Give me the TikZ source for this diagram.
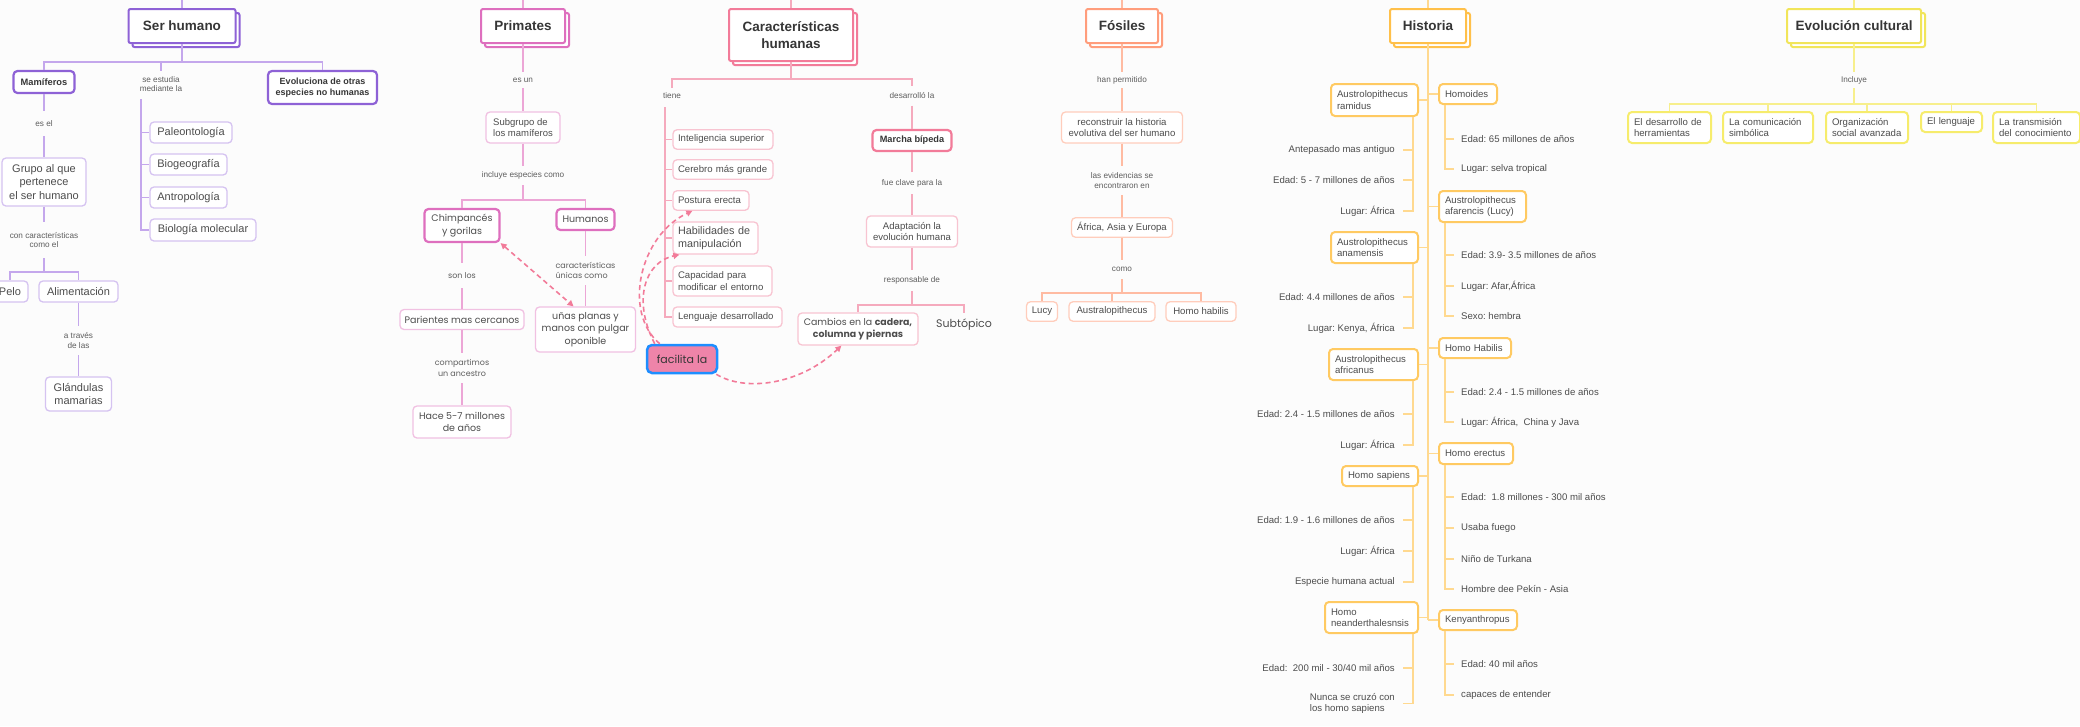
\documentclass[tikz,border=0pt]{standalone}
\usepackage{fontspec}
\setmainfont{Liberation Sans}
\newfontfamily\geo{Poppins}
\usetikzlibrary{arrows.meta}
\newcommand\myfs[2]{\fontsize{#1}{#2}\selectfont}
\definecolor{bg}{HTML}{FCFCFC}
\definecolor{txtD}{HTML}{363636}
\definecolor{txtM}{HTML}{4D4D4D}
\definecolor{txtL}{HTML}{5E5E5E}
\definecolor{puD}{HTML}{8E62D6}
\definecolor{puL}{HTML}{D5C3F1}
\definecolor{puC}{HTML}{C4A7EC}
\definecolor{maD}{HTML}{DE6FBE}
\definecolor{maL}{HTML}{F1C1E2}
\definecolor{maC}{HTML}{ECA6D6}
\definecolor{piD}{HTML}{F27B99}
\definecolor{piL}{HTML}{F8C4D1}
\definecolor{piC}{HTML}{F5AABD}
\definecolor{piF}{HTML}{EE84A9}
\definecolor{blu}{HTML}{1E8EFF}
\definecolor{coD}{HTML}{FF9D7C}
\definecolor{coL}{HTML}{FFCDBC}
\definecolor{coC}{HTML}{FFBBA2}
\definecolor{orD}{HTML}{FFC04A}
\definecolor{orB}{HTML}{FFCA62}
\definecolor{orC}{HTML}{FFD990}
\definecolor{yeD}{HTML}{F1E55A}
\definecolor{yeB}{HTML}{F6EC6C}
\definecolor{yeC}{HTML}{F7EF8C}
\tikzset{
  rootsh/.style={draw=#1, line width=2pt, fill=white, rounded corners=2pt, inner sep=0pt},
  rootbox/.style={draw=#1, line width=2pt, fill=white, rounded corners=2pt, inner sep=0pt, align=center, text=txtD, font=\bfseries\myfs{13.5}{16.7}},
  tbox/.style={draw=#1, line width=1.3pt, fill=white, rounded corners=4pt, inner sep=0pt, align=center, text=txtM, font=\myfs{9.6}{11.4}},
  tboxl/.style={tbox=#1, align=left, inner xsep=5pt},
  kbox/.style={draw=#1, line width=2.2pt, fill=white, rounded corners=4pt, inner sep=0pt, align=center, text=txtD, font=\bfseries\myfs{9.2}{11}},
  obox/.style={draw=#1, line width=2pt, fill=white, rounded corners=4pt, inner sep=0pt, inner xsep=6pt, align=left, text=txtM, font=\myfs{9.6}{11.4}},
  lbl/.style={inner sep=0pt, align=center, text=txtL, font=\myfs{8.2}{9.5}},
  itm/.style={inner sep=0pt, text=txtM, font=\myfs{9.6}{11.2}, align=left},
  cn/.style={draw=#1, line width=1.3pt},
  dlink/.style={draw=piD, line width=1.6pt, dash pattern=on 5pt off 3.5pt, -{Triangle[length=6pt,width=6pt]}},
}
\begin{document}
\frenchspacing
\begin{tikzpicture}[x=1pt,y=-1pt]
\clip (0,0) rectangle (2080,726);
\fill[bg] (0,0) rectangle (2080,726);

% ===== Ser humano =====
\coordinate (serT) at (182,0);
\coordinate (sj) at (182,62);
\coordinate (barS) at (141,99);
\coordinate (pj) at (44,272);
\node[rootsh=puD, minimum width=107pt, minimum height=34pt] (serS) at (186,30) {};
\node[rootbox=puD, minimum width=107pt, minimum height=34pt] (ser) at (182,26) {Ser humano};
\node[kbox=puD, font=\bfseries\myfs{9.3}{11}, minimum width=61pt, minimum height=22pt] (mam) at (44,82) {Mamíferos};
\node[kbox=puD, font=\bfseries\myfs{9}{11.2}, minimum width=109pt, minimum height=33pt] (evo) at (322.5,87.5) {Evoluciona de otras\\especies no humanas};
\node[lbl, minimum height=26pt] (estud) at (161,84) {se estudia\\mediante la};
\node[tbox=puL, font=\myfs{11}{13}, minimum width=82pt, minimum height=21pt] (paleo) at (191,132.5) {Paleontología};
\node[tbox=puL, font=\myfs{11}{13}, minimum width=77pt, minimum height=21pt] (biog) at (188.5,164.5) {Biogeografía};
\node[tbox=puL, font=\myfs{11}{13}, minimum width=77pt, minimum height=21pt] (antro) at (188.5,197.5) {Antropología};
\node[tbox=puL, font=\myfs{11}{13}, minimum width=106pt, minimum height=22pt] (biomol) at (203,230) {Biología molecular};
\node[lbl, minimum height=25pt] (esel) at (44,123.5) {es el};
\node[tbox=puL, font=\myfs{11}{13.2}, minimum width=84pt, minimum height=48pt] (grupo) at (44,182) {Grupo al que\\pertenece\\el ser humano};
\node[lbl, minimum height=36pt] (concar) at (44,240) {con características\\como el};
\node[tbox=puL, font=\myfs{11}{13}, minimum width=36pt, minimum height=21pt] (pelo) at (10,291.5) {Pelo};
\node[tbox=puL, font=\myfs{11}{13}, minimum width=79pt, minimum height=21pt] (alim) at (78.5,291.5) {Alimentación};
\node[lbl, minimum height=29pt] (atrav) at (78.5,340.5) {a través\\de las};
\node[tbox=puL, font=\myfs{11}{13.2}, minimum width=66pt, minimum height=34pt] (glan) at (78.5,394) {Glándulas\\mamarias};

\draw[cn=puC] (serT) -- (ser);
\draw[cn=puC] (ser) -- (sj);
\draw[cn=puC] (sj) -| (mam.north);
\draw[cn=puC] (sj) -| (evo.north);
\draw[cn=puC] (sj) -| (estud.north);
\foreach \n in {paleo,biog,antro,biomol} \draw[cn=puC] (barS) |- (\n.west);
\draw[cn=puC] (mam) -- (esel);
\draw[cn=puC] (esel) -- (grupo);
\draw[cn=puC] (grupo) -- (concar);
\draw[cn=puC] (concar) -- (pj);
\draw[cn=puC] (pj) -| (pelo.north);
\draw[cn=puC] (pj) -| (alim.north);
\draw[cn=puC] (alim) -- (atrav);
\draw[cn=puC] (atrav) -- (glan);

% ===== Primates =====
\coordinate (primT) at (523,0);
\coordinate (pj2) at (523,200);
\node[rootsh=maD, minimum width=84pt, minimum height=34pt] (primS) at (527,30) {};
\node[rootbox=maD, minimum width=84pt, minimum height=34pt] (prim) at (523,26) {Primates};
\node[lbl, minimum height=16pt] (esun) at (523,80) {es un};
\node[tbox=maL, align=left, font=\myfs{9.5}{11.3}, minimum width=74pt, minimum height=31pt] (subg) at (523,127.5) {Subgrupo de\\los mamíferos};
\node[lbl, minimum height=19pt] (incl) at (523,175.5) {incluye especies como};
\node[kbox=maD, font=\geo\myfs{9.5}{12.3}, text=txtM, minimum width=75pt, minimum height=33pt] (chimp) at (462,225.5) {Chimpancés\\y gorilas};
\node[kbox=maD, font=\geo\myfs{9.5}{12}, text=txtM, minimum width=58pt, minimum height=21pt] (hum) at (585.5,219.5) {Humanos};
\node[lbl, font=\geo\myfs{8}{10.3}, minimum height=25pt] (sonlos) at (462,275.5) {son los};
\node[tbox=maL, font=\geo\myfs{9.5}{12}, minimum width=124pt, minimum height=20pt] (pari) at (462,319.5) {Parientes mas cercanos};
\node[lbl, font=\geo\myfs{8}{10.3}, minimum height=30pt] (compar) at (462,368) {compartimos\\un ancestro};
\node[tbox=maL, font=\geo\myfs{9.5}{12.3}, minimum width=98pt, minimum height=32pt] (hace) at (462,422) {Hace 5-7 millones\\de años};
\node[lbl, font=\geo\myfs{8}{10.3}, align=left, minimum height=29pt] (unic) at (585.5,270.5) {características\\únicas como};
\node[tbox=maL, font=\geo\myfs{9.5}{12.3}, minimum width=100pt, minimum height=45pt] (unas) at (585.5,329.5) {uñas planas y\\manos con pulgar\\oponible};

\draw[cn=maC] (primT) -- (prim);
\draw[cn=maC] (prim) -- (esun);
\draw[cn=maC] (esun) -- (subg);
\draw[cn=maC] (subg) -- (incl);
\draw[cn=maC] (incl) -- (pj2);
\draw[cn=maC] (pj2) -| (chimp.north);
\draw[cn=maC] (pj2) -| (hum.north);
\draw[cn=maC] (chimp) -- (sonlos);
\draw[cn=maC] (sonlos) -- (pari);
\draw[cn=maC] (pari) -- (compar);
\draw[cn=maC] (compar) -- (hace);
\draw[cn=maC] (hum) -- (unic);
\draw[cn=maC] (unic) -- (unas);

% ===== Caracteristicas =====
\coordinate (carT) at (791,0);
\coordinate (cj) at (791,79);
\coordinate (barC) at (665,107);
\coordinate (rj) at (912,305);
\node[rootsh=piD, minimum width=124pt, minimum height=52pt] (carS) at (795,39) {};
\node[rootbox=piD, minimum width=124pt, minimum height=52pt] (car) at (791,35) {Características\\humanas};
\node[lbl, minimum height=16pt] (tiene) at (672,96) {tiene};
\node[tboxl=piL, text width=90pt, minimum height=19.5pt] (intel) at (723,139.5) {Inteligencia superior};
\node[tboxl=piL, text width=90pt, minimum height=19.5pt] (cereb) at (723,169.5) {Cerebro más grande};
\node[tboxl=piL, text width=66pt, minimum height=19.5pt] (post) at (711,200.5) {Postura erecta};
\node[tboxl=piL, font=\myfs{10.8}{12.5}, text width=75pt, minimum height=32pt] (habil) at (715.5,238) {Habilidades de\\manipulación};
\node[tboxl=piL, text width=89pt, minimum height=30pt] (capac) at (722.5,281) {Capacidad para\\modificar el entorno};
\node[tboxl=piL, text width=99pt, minimum height=20pt] (leng) at (727.5,317) {Lenguaje desarrollado};
\node[lbl, minimum height=19pt] (desar) at (912,96) {desarrolló la};
\node[kbox=piD, minimum width=79pt, minimum height=21pt] (marcha) at (912,140.5) {Marcha bípeda};
\node[lbl, minimum height=22pt] (fuec) at (912,183) {fue clave para la};
\node[tbox=piL, minimum width=91pt, minimum height=31pt] (adapt) at (912,231.5) {Adaptación la\\evolución humana};
\node[lbl, minimum height=21pt] (resp) at (912,280.5) {responsable de};
\node[tbox=piL, font=\geo\myfs{9.4}{12}, minimum width=120pt, minimum height=32pt] (camb) at (858,329) {Cambios en la \textbf{cadera,}\\\textbf{columna y piernas}};
\node[inner sep=0pt, text=txtM, font=\geo\myfs{11}{13}, minimum height=24pt] (subt) at (964,325) {Subtópico};
\node[draw=blu, line width=2.5pt, fill=piF, rounded corners=5pt, inner sep=0pt, text=txtD, font=\geo\myfs{11}{13}, minimum width=70pt, minimum height=28pt] (fac) at (682,359) {facilita la};

\draw[cn=piC] (carT) -- (car);
\draw[cn=piC] (car) -- (cj);
\draw[cn=piC] (cj) -| (tiene.north);
\draw[cn=piC] (cj) -| (desar.north);
\foreach \n in {intel,cereb,post,habil,capac,leng} \draw[cn=piC] (barC) |- (\n.west);
\draw[cn=piC] (desar) -- (marcha);
\draw[cn=piC] (marcha) -- (fuec);
\draw[cn=piC] (fuec) -- (adapt);
\draw[cn=piC] (adapt) -- (resp);
\draw[cn=piC] (resp) -- (rj);
\draw[cn=piC] (rj) -| (camb.north);
\draw[cn=piC] (rj) -| (subt.north);

\draw[dlink] ([xshift=14pt]fac.north west) .. controls (622,312) and (640,235) .. ([xshift=20pt]post.south west);
\draw[dlink] ([xshift=9pt]fac.north west) .. controls (632,300) and (645,262) .. ([xshift=7pt]habil.south west);
\draw[dlink] ([xshift=-2pt]fac.south east) .. controls (745,392) and (800,385) .. ([xshift=44pt]camb.south west);
\draw[dlink, {Triangle[length=6pt,width=6pt]}-{Triangle[length=6pt,width=6pt]}] (chimp.south east) -- ([xshift=-12pt]unas.north);

% ===== Fosiles =====
\coordinate (fosT) at (1122,0);
\coordinate (fj) at (1122,293);
\node[rootsh=coD, minimum width=72pt, minimum height=34pt] (fosS) at (1126,30) {};
\node[rootbox=coD, minimum width=72pt, minimum height=34pt] (fos) at (1122,26) {Fósiles};
\node[lbl, minimum height=16pt] (hanp) at (1122,80) {han permitido};
\node[tbox=coL, minimum width=121pt, minimum height=31pt] (recon) at (1122,127.5) {reconstruir la historia\\evolutiva del ser humano};
\node[lbl, minimum height=29pt] (evid) at (1122,180.5) {las evidencias se\\encontraron en};
\node[tbox=coL, minimum width=101pt, minimum height=19.5pt] (afr) at (1122,227.5) {África, Asia y Europa};
\node[lbl, minimum height=19pt] (comof) at (1122,269.5) {como};
\node[tbox=coL, minimum width=31pt, minimum height=19.5pt] (lucy) at (1042,311.5) {Lucy};
\node[tbox=coL, minimum width=86pt, minimum height=19.5pt] (austr) at (1112,311.5) {Australopithecus};
\node[tbox=coL, minimum width=70pt, minimum height=19.5pt] (hhabf) at (1201,311.5) {Homo habilis};

\draw[cn=coC] (fosT) -- (fos);
\draw[cn=coC] (fos) -- (hanp);
\draw[cn=coC] (hanp) -- (recon);
\draw[cn=coC] (recon) -- (evid);
\draw[cn=coC] (evid) -- (afr);
\draw[cn=coC] (afr) -- (comof);
\draw[cn=coC] (comof) -- (fj);
\draw[cn=coC] (fj) -| (lucy.north);
\draw[cn=coC] (fj) -| (austr.north);
\draw[cn=coC] (fj) -| (hhabf.north);

% ===== Historia =====
\coordinate (histT) at (1428,0);
\coordinate (hB) at (1428,620);
\node[rootsh=orD, minimum width=76pt, minimum height=34pt] (histS) at (1432,30) {};
\node[rootbox=orD, minimum width=76pt, minimum height=34pt] (hist) at (1428,26) {Historia};
\draw[cn=orC] (histT) -- (hist);
\draw[cn=orC] (hist) -- (hB);

\node[obox=orB, text width=75pt, minimum height=32pt] (ram) at (1374.5,100) {Austrolopithecus\\ramidus};
\node[obox=orB, text width=75pt, minimum height=31pt] (anam) at (1374.5,247.5) {Austrolopithecus\\anamensis};
\node[obox=orB, text width=77pt, minimum height=31pt] (afric) at (1373.5,364.5) {Austrolopithecus\\africanus};
\node[obox=orB, text width=64pt, minimum height=20pt] (sap) at (1380,476) {Homo sapiens};
\node[obox=orB, text width=81pt, minimum height=31pt] (nean) at (1371.5,617.5) {Homo\\neanderthalesnsis};
\node[obox=orB, text width=46pt, minimum height=20pt] (homo) at (1468,94) {Homoides};
\node[obox=orB, text width=75pt, minimum height=31pt] (afar) at (1482.5,206.5) {Austrolopithecus\\afarencis (Lucy)};
\node[obox=orB, text width=60pt, minimum height=20pt] (hhab) at (1475,348) {Homo Habilis};
\node[obox=orB, text width=62pt, minimum height=21pt] (erec) at (1476,453.5) {Homo erectus};
\node[obox=orB, text width=66pt, minimum height=20pt] (keny) at (1478,620) {Kenyanthropus};
\foreach \n in {ram,anam,afric,sap,nean} \draw[cn=orC] (\n.east) -- (\n.east -| hB);
\foreach \n in {homo,afar,hhab,erec,keny} \draw[cn=orC] (\n.west) -- (\n.west -| hB);

\tikzset{li/.style={itm, anchor=east, inner xsep=8pt}, ri/.style={itm, anchor=west, inner xsep=7pt}}
\node[li] (r1) at (1403,150) {Antepasado mas antiguo};
\node[li] (r2) at (1403,180) {Edad: 5 - 7 millones de años};
\node[li] (r3) at (1403,211) {Lugar: África};
\node[li] (a1) at (1403,297) {Edad: 4.4 millones de años};
\node[li] (a2) at (1403,328) {Lugar: Kenya, África};
\node[li] (f1) at (1403,414) {Edad: 2.4 - 1.5 millones de años};
\node[li] (f2) at (1403,445) {Lugar: África};
\node[li] (s1) at (1403,520) {Edad: 1.9 - 1.6 millones de años};
\node[li] (s2) at (1403,551) {Lugar: África};
\node[li] (s3) at (1403,582) {Especie humana actual};
\node[li] (n1) at (1403,668) {Edad:\ \ 200 mil - 30/40 mil años};
\node[li] (n2) at (1403,703.5) {Nunca se cruzó con\\los homo sapiens};
\node[ri] (h1) at (1454,139) {Edad: 65 millones de años};
\node[ri] (h2) at (1454,169) {Lugar: selva tropical};
\node[ri] (l1) at (1454,255) {Edad: 3.9- 3.5 millones de años};
\node[ri] (l2) at (1454,286) {Lugar: Afar,África};
\node[ri] (l3) at (1454,316) {Sexo: hembra};
\node[ri] (b1) at (1454,392) {Edad: 2.4 - 1.5 millones de años};
\node[ri] (b2) at (1454,422) {Lugar: África,\ \ China y Java};
\node[ri] (x1) at (1454,497) {Edad:\ \ 1.8 millones - 300 mil años};
\node[ri] (x2) at (1454,528) {Usaba fuego};
\node[ri] (x3) at (1454,559) {Niño de Turkana};
\node[ri] (x4) at (1454,589) {Hombre dee Pekín - Asia};
\node[ri] (k1) at (1454,664) {Edad: 40 mil años};
\node[ri] (k2) at (1454,695) {capaces de entender};

\foreach \i in {r1,r2,r3} \draw[cn=orC] ([xshift=-6pt]ram.south east) |- (\i.east);
\foreach \i in {a1,a2} \draw[cn=orC] ([xshift=-6pt]anam.south east) |- (\i.east);
\foreach \i in {f1,f2} \draw[cn=orC] ([xshift=-6pt]afric.south east) |- (\i.east);
\foreach \i in {s1,s2,s3} \draw[cn=orC] ([xshift=-6pt]sap.south east) |- (\i.east);
\foreach \i in {n1,n2} \draw[cn=orC] ([xshift=-6pt]nean.south east) |- (\i.east);
\foreach \i in {h1,h2} \draw[cn=orC] ([xshift=7pt]homo.south west) |- (\i.west);
\foreach \i in {l1,l2,l3} \draw[cn=orC] ([xshift=7pt]afar.south west) |- (\i.west);
\foreach \i in {b1,b2} \draw[cn=orC] ([xshift=7pt]hhab.south west) |- (\i.west);
\foreach \i in {x1,x2,x3,x4} \draw[cn=orC] ([xshift=7pt]erec.south west) |- (\i.west);
\foreach \i in {k1,k2} \draw[cn=orC] ([xshift=7pt]keny.south west) |- (\i.west);

% ===== Evolucion cultural =====
\coordinate (evcT) at (1854,0);
\coordinate (ej) at (1854,104);
\node[rootsh=yeD, minimum width=134pt, minimum height=34pt] (evcS) at (1858,30) {};
\node[rootbox=yeD, minimum width=134pt, minimum height=34pt] (evc) at (1854,26) {Evolución cultural};
\node[lbl, minimum height=16pt] (inclu) at (1854,80) {Incluye};
\node[obox=yeB, text width=71pt, minimum height=31pt] (c1) at (1669.5,127.5) {El desarrollo de\\herramientas};
\node[obox=yeB, text width=78pt, minimum height=31pt] (c2) at (1768,127.5) {La comunicación\\simbólica};
\node[obox=yeB, text width=70pt, minimum height=31pt] (c3) at (1867,127.5) {Organización\\social avanzada};
\node[obox=yeB, text width=49pt, minimum height=20pt] (c4) at (1951.5,122) {El lenguaje};
\node[obox=yeB, text width=75pt, minimum height=31pt] (c5) at (2036.5,127.5) {La transmisión\\del conocimiento};
\draw[cn=yeC] (evcT) -- (evc);
\draw[cn=yeC] (evc) -- (inclu);
\draw[cn=yeC] (inclu) -- (ej);
\foreach \n in {c1,c2,c3,c4,c5} \draw[cn=yeC] (ej) -| (\n.north);
\end{tikzpicture}
\end{document}
